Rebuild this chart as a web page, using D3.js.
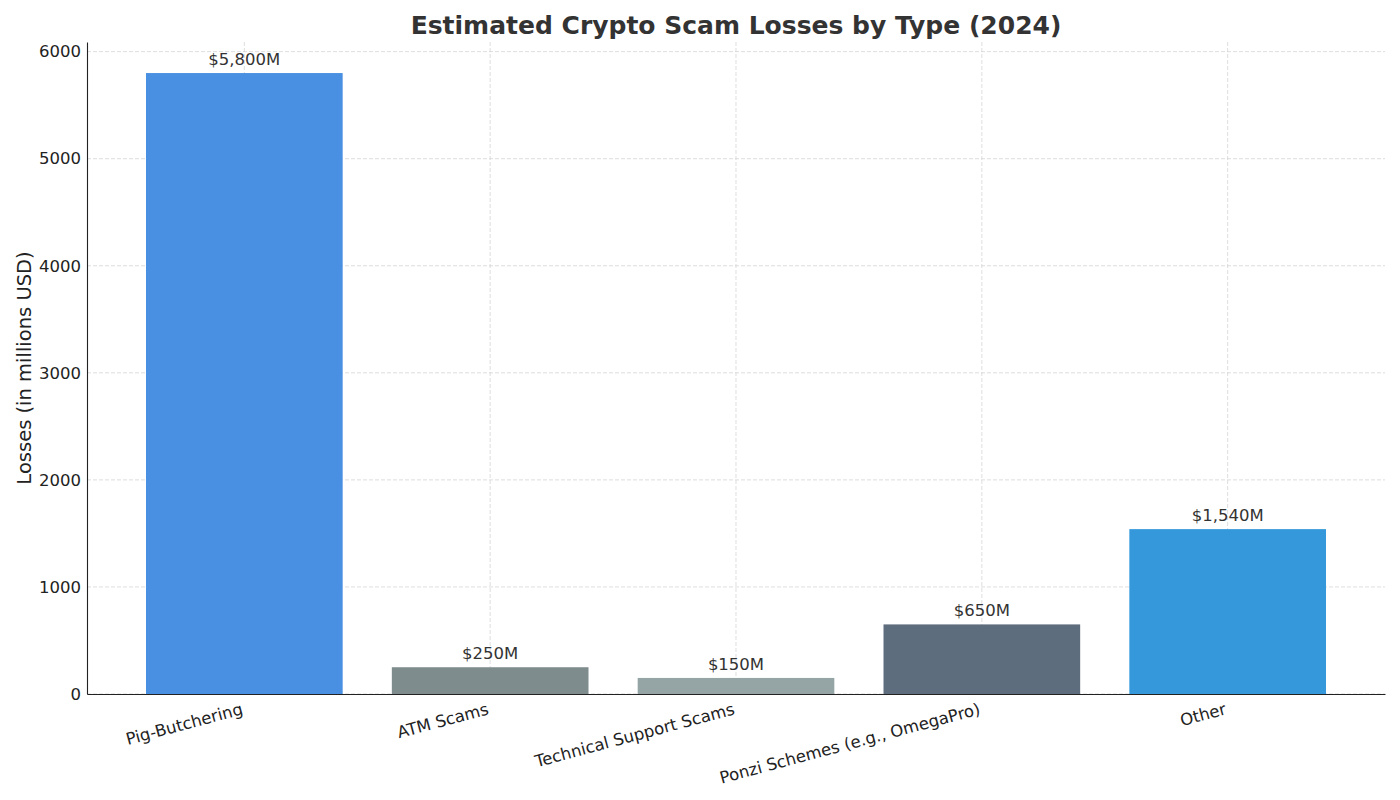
<!DOCTYPE html>
<html>
<head>
<meta charset="utf-8">
<script src="https://cdn.jsdelivr.net/npm/d3@7"></script>
<style>
  body { margin: 0; background: #fff; }
  svg { font-family: "DejaVu Sans", sans-serif; }
</style>
</head>
<body>
<div id="chart"></div>
<script>
// Data
const categories = ["Pig-Butchering", "ATM Scams", "Technical Support Scams", "Ponzi Schemes (e.g., OmegaPro)", "Other"];
const losses = [5800, 250, 150, 650, 1540];
const barLabels = ["$5,800M", "$250M", "$150M", "$650M", "$1,540M"];
const barColors = ["#4A90E2", "#7F8C8D", "#95A5A6", "#5D6D7E", "#3498DB"];
const yTicks = [0, 1000, 2000, 3000, 4000, 5000, 6000];

const width = 1400;
const height = 800;
const margin = { top: 42, right: 15, bottom: 106, left: 87 };
const font = "DejaVu Sans, sans-serif";

const svg = d3.select("#chart")
    .append("svg")
    .attr("width", width)
    .attr("height", height);

// matplotlib-like linear x: bars of width 0.8 at 0..n-1 with 5% margins
const n = categories.length;
const span = (n - 1) + 0.8;
const pad = span * 0.05;
const x = d3.scaleLinear()
    .domain([-0.4 - pad, n - 1 + 0.4 + pad])
    .range([margin.left, width - margin.right]);

const y = d3.scaleLinear()
    .domain([0, d3.max(losses) * 1.05])
    .range([height - margin.bottom, margin.top]);

// Grid lines (dashed, both directions)
const grid = svg.append("g").attr("class", "grid");
grid.selectAll("line.h")
    .data(yTicks)
    .enter().append("line")
    .attr("class", "h")
    .attr("x1", margin.left)
    .attr("x2", width - margin.right)
    .attr("y1", d => y(d))
    .attr("y2", d => y(d))
    .attr("stroke", "#d0d0d0")
    .attr("stroke-width", 0.7)
    .attr("stroke-dasharray", "4,2");
grid.selectAll("line.v")
    .data(categories)
    .enter().append("line")
    .attr("class", "v")
    .attr("x1", (d, i) => x(i))
    .attr("x2", (d, i) => x(i))
    .attr("y1", margin.top)
    .attr("y2", height - margin.bottom)
    .attr("stroke", "#d0d0d0")
    .attr("stroke-width", 0.7)
    .attr("stroke-dasharray", "4,2");

// Bars
svg.append("g")
    .selectAll("rect")
    .data(losses)
    .enter().append("rect")
    .attr("x", (d, i) => x(i - 0.4))
    .attr("width", x(0.4) - x(-0.4))
    .attr("y", d => y(d))
    .attr("height", d => y(0) - y(d))
    .attr("fill", (d, i) => barColors[i]);

// Value labels above bars
svg.append("g")
    .selectAll("text")
    .data(losses)
    .enter().append("text")
    .attr("x", (d, i) => x(i))
    .attr("y", d => y(d) - 8)
    .attr("text-anchor", "middle")
    .attr("font-size", "16.5px")
    .attr("fill", "#333")
    .text((d, i) => barLabels[i]);

// Y axis (no tick marks, labels only)
const yAxis = svg.append("g")
    .attr("transform", `translate(${margin.left},0)`)
    .call(d3.axisLeft(y).tickValues(yTicks).tickSize(0).tickPadding(6).tickFormat(d3.format("d")))
    .attr("font-family", font);
yAxis.select(".domain").attr("stroke", "#222").attr("stroke-width", 1.1);
yAxis.selectAll("text").attr("font-size", "16.5px").attr("fill", "#222");

// X axis with rotated labels
const xAxis = svg.append("g")
    .attr("transform", `translate(0,${height - margin.bottom})`)
    .call(d3.axisBottom(x).tickValues(d3.range(n)).tickSize(0).tickFormat(i => categories[i]))
    .attr("font-family", font);
xAxis.select(".domain").attr("stroke", "#222").attr("stroke-width", 1.1);
xAxis.selectAll("text")
    .attr("font-size", "16.5px")
    .attr("fill", "#222")
    .attr("text-anchor", "end")
    .attr("dy", null)
    .attr("y", null)
    .attr("transform", "translate(-1,20) rotate(-15)");

// Title
svg.append("text")
    .attr("x", (margin.left + width - margin.right) / 2)
    .attr("y", 34)
    .attr("text-anchor", "middle")
    .attr("font-size", "25px")
    .attr("font-weight", "bold")
    .attr("fill", "#333")
    .text("Estimated Crypto Scam Losses by Type (2024)");

// Y axis label
svg.append("text")
    .attr("transform", `translate(31,${(margin.top + height - margin.bottom) / 2}) rotate(-90)`)
    .attr("text-anchor", "middle")
    .attr("font-size", "19.5px")
    .attr("fill", "#222")
    .text("Losses (in millions USD)");
</script>
</body>
</html>
